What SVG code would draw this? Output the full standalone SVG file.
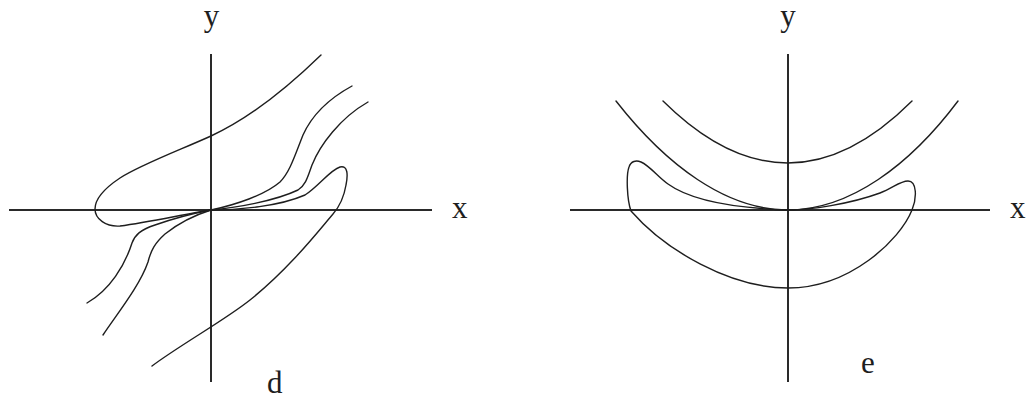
<svg xmlns="http://www.w3.org/2000/svg" width="1026" height="399" viewBox="0 0 1026 399">
<style>
.axis{stroke:#2a2a2a;stroke-width:2;fill:none}
.curve{stroke:#1e1e1e;stroke-width:1.4;fill:none;stroke-linejoin:round;stroke-linecap:round}
.lbl{font-family:"Liberation Serif","Times New Roman",serif;font-size:31px;fill:#1e1e1e}
</style>
<rect width="1026" height="399" fill="#ffffff"/>
<g id="panel-d">
<line class="axis" x1="9" y1="210" x2="432" y2="210"/>
<line class="axis" x1="211" y1="54" x2="211" y2="382"/>
<text class="lbl" x="211.5" y="26" text-anchor="middle">y</text>
<text class="lbl" x="452" y="218">x</text>
<text class="lbl" x="267" y="393">d</text>
<path class="curve" d="M321,55 C285,90 250,118 211,136 C180,150 140,165 120,178 C105,188 95,198 95,209 C95,219 106,227 120,226 C150,222 185,214 211,210 C240,210 280,206 305,195 C318,187 330,170 340,167 C348,165 348,175 346,185 C344,197 340,206 333,214 C320,229 290,268 250,300 C225,320 180,345 152,366"/>
<path class="curve" d="M87,303 C110,290 125,265 132,243 C135,235 140,230 155,225 C175,218 195,213 211,210 C235,205 265,195 280,182 C290,172 295,155 303,135 C312,115 330,98 352,86"/>
<path class="curve" d="M103,335 C120,310 140,285 148,262 C151,250 155,243 165,234 C180,222 195,215 211,210 C235,208 275,201 298,190 C306,185 308,176 312,165 C320,145 340,118 368,102"/>
</g>
<g id="panel-e">
<line class="axis" x1="570" y1="210" x2="990" y2="210"/>
<line class="axis" x1="788" y1="54" x2="788" y2="382"/>
<text class="lbl" x="788" y="26" text-anchor="middle">y</text>
<text class="lbl" x="1010" y="218">x</text>
<text class="lbl" x="861" y="373">e</text>
<path class="curve" d="M663,101 Q788,225 912,101"/>
<path class="curve" d="M616,101 C666,165 726,210 788,210 C850,210 910,165 958,101"/>
<path class="curve" d="M631,211 C627,200 626,175 629,167 C631,161 636,160 641,162 C650,166 658,177 668,184 C690,200 730,208 788,210 C810,210 850,204 880,193 C893,188 900,181 908,181 C917,181 917,198 912,210 C900,240 850,288 788,288 C730,288 665,250 631,211 Z"/>
</g>
</svg>
